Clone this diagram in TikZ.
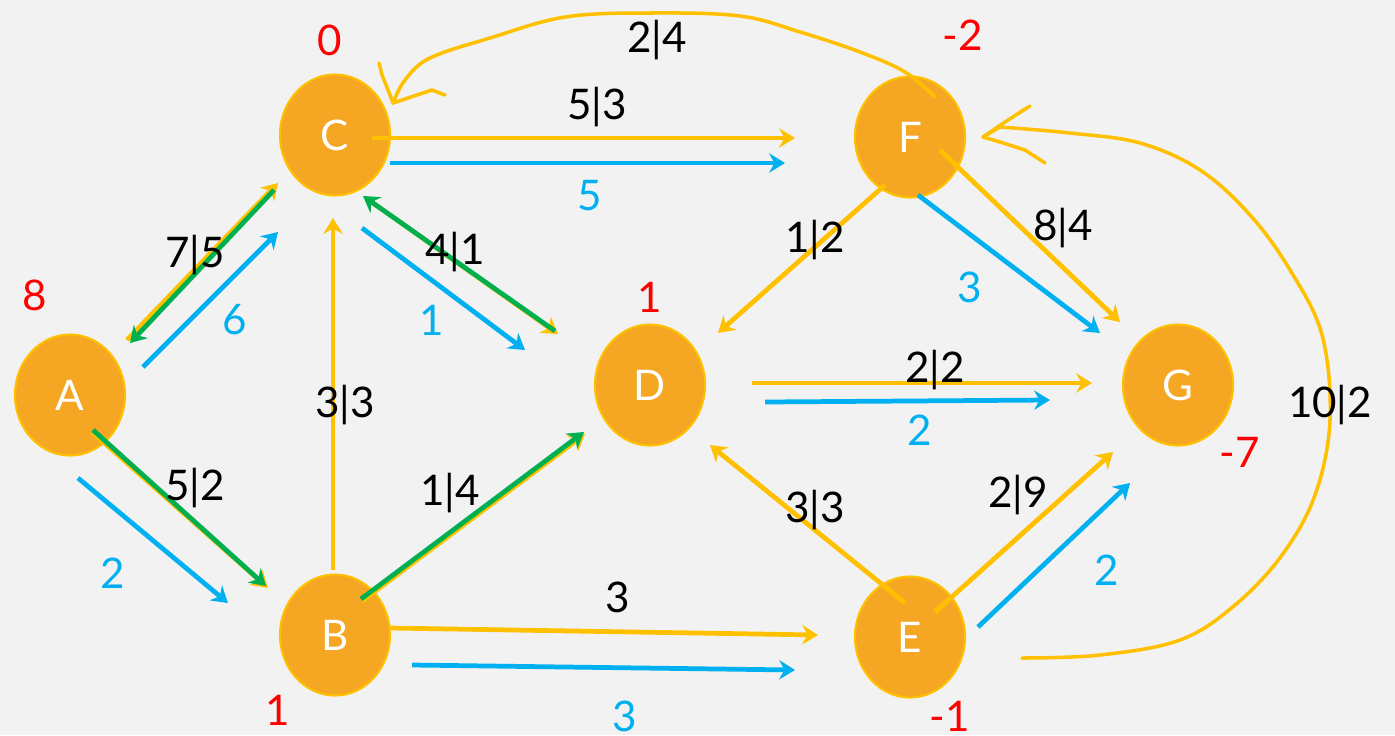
\documentclass[tikz,border=0pt]{standalone}
\usepackage{fontspec}
\setmainfont{Lato}
\usetikzlibrary{shapes.geometric,arrows.meta}
\definecolor{bg}{HTML}{F2F2F2}
\definecolor{vfill}{HTML}{F5A623}
\definecolor{gold}{HTML}{FFC000}
\definecolor{sky}{HTML}{00B0F0}
\definecolor{leaf}{HTML}{00B050}
\definecolor{pot}{HTML}{FF0000}
\tikzset{
  vert/.style={ellipse, draw=gold, line width=1.2pt, fill=vfill, text=white,
    minimum width=2.2cm, minimum height=2.42cm, inner sep=0pt, font=\fontsize{24}{28}\selectfont},
  tip/.style={-{Stealth[length=9pt,width=11pt,inset=3pt]}},
  ya/.style={tip, gold, line width=2.7pt},
  ba/.style={tip, sky, line width=2.7pt},
  ga/.style={tip, leaf, line width=2.7pt},
  hand/.style={gold, line width=2pt, line cap=round, line join=round},
  lbl/.style={font=\fontsize{24}{28}\selectfont, inner sep=0pt},
  bl/.style={lbl, text=sky},
  pl/.style={lbl, text=pot},
}
\begin{document}
\begin{tikzpicture}[x=0.02cm, y=-0.02cm]
\fill[bg] (0,0) rectangle (1395,735);
% vertices
\foreach \n/\x/\y in {A/70/395, C/335/135, B/335/635, D/650/385, F/910/137, E/910/637, G/1178/385} {
  \node[vert] (\n) at (\x,\y) {\n};
}
% yellow arcs (residual network)
\draw[ya] ([shift={(57,-55)}]A.center) -- ([shift={(-57,48)}]C.center);
\draw[ya] ([shift={(22,37)}]A.center)  -- ([shift={(-67,-47)}]B.center);
\draw[ya] ([shift={(-2,-65)}]B.center) -- ([shift={(-2,83)}]C.center);
\draw[ya] ([shift={(31,63)}]C.center)  -- ([shift={(-92,-51)}]D.center);
\draw[ya] ([shift={(37,3)}]C.center)   -- ([shift={(-115,1)}]F.center);
\draw[ya] ([shift={(27,-34)}]B.center) -- ([shift={(-65,49)}]D.center);
\draw[ya] ([shift={(55,-7)}]B.center)  -- ([shift={(-92,-2)}]E.center);
\draw[ya] ([shift={(-25,48)}]F.center) -- ([shift={(68,-52)}]D.center);
\draw[ya] ([shift={(30,13)}]F.center)  -- ([shift={(-58,-63)}]G.center);
\draw[ya] ([shift={(102,-2)}]D.center) -- ([shift={(-86,-2)}]G.center);
\draw[ya] ([shift={(-5,-34)}]E.center) -- ([shift={(60,60)}]D.center);
\draw[ya] ([shift={(25,-25)}]E.center) -- ([shift={(-65,67)}]G.center);
% green arcs on top
\draw[ga] ([shift={(-61,55)}]C.center) -- ([shift={(60,-52)}]A.center);
\draw[ga] ([shift={(23,35)}]A.center)  -- ([shift={(-69,-49)}]B.center);
\draw[ga] ([shift={(-95,-54)}]D.center) -- ([shift={(28,61)}]C.center);
\draw[ga] ([shift={(26,-36)}]B.center) -- ([shift={(-66,47)}]D.center);
% blue arcs
\draw[ba] ([shift={(73,-28)}]A.center) -- ([shift={(-57,97)}]C.center);
\draw[ba] ([shift={(8,83)}]A.center)   -- ([shift={(-107,-32)}]B.center);
\draw[ba] ([shift={(27,93)}]C.center)  -- ([shift={(-125,-35)}]D.center);
\draw[ba] ([shift={(55,28)}]C.center)  -- ([shift={(-125,26)}]F.center);
\draw[ba] ([shift={(77,30)}]B.center)  -- ([shift={(-115,33)}]E.center);
\draw[ba] ([shift={(8,58)}]F.center)   -- ([shift={(-78,-52)}]G.center);
\draw[ba] ([shift={(115,17)}]D.center) -- ([shift={(-128,15)}]G.center);
\draw[ba] ([shift={(68,-10)}]E.center) -- ([shift={(-48,98)}]G.center);
% hand drawn arcs
\draw[hand] ([shift={(25,-40)}]F.center) plot[smooth, tension=0.6] coordinates {
  (935,97) (905,72) (860,52) (800,32) (740,16) (650,13) (565,17) (490,38)
  (430,58) (405,80) (393,103)};
\draw[hand] (393,103) -- (388,90) -- (382,75) -- (379,63);
\draw[hand] (393,103) -- (420,94) -- (432,90) -- (445,95);
\draw[hand] ([shift={(112,21)}]E.center) plot[smooth, tension=0.6] coordinates {
  (1022,658) (1100,655) (1180,640) (1235,605) (1282,555) (1315,495)
  (1330,420) (1322,335) (1290,270) (1250,215) (1200,170) (1140,143) (1070,133) (1000,127)};
\draw[hand] (1000,127) -- (983,137) -- (1005,122) -- (1030,106) -- (1020,112);
\draw[hand] (983,137) -- (1000,142) -- (1025,150) -- (1045,163);
% potentials
\node[pl] (pC) at (330,40)  {0};
\node[pl] (pA) at (35,295)  {8};
\node[pl] (pB) at (278,710) {1};
\node[pl] (pD) at (650,297) {1};
\node[pl] (pF) at (963,35)  {-2};
\node[pl] (pG) at (1240,452) {-7};
\node[pl] (pE) at (950,716) {-1};
% arc labels
\node[lbl] (lCF) at (597,107) {5|3};
\node[bl]  (cCF) at (590,196) {5};
\node[lbl] (lAC) at (195,255) {7|5};
\node[bl]  (cAC) at (235,320) {6};
\node[lbl] (lAB) at (195,488) {5|2};
\node[bl]  (cAB) at (113,573) {2};
\node[lbl] (lBC) at (345,405) {3|3};
\node[lbl] (lCD) at (455,252) {4|1};
\node[bl]  (cCD) at (432,320) {1};
\node[lbl] (lBD) at (450,493) {1|4};
\node[lbl] (lBE) at (618,597) {3};
\node[bl]  (cBE) at (625,716) {3};
\node[lbl] (lFD) at (815,240) {1|2};
\node[lbl] (lFG) at (1063,228) {8|4};
\node[bl]  (cFG) at (970,287) {3};
\node[lbl] (lDG) at (935,370) {2|2};
\node[bl]  (cDG) at (920,430) {2};
\node[lbl] (lED) at (815,510) {3|3};
\node[lbl] (lEG) at (1018,495) {2|9};
\node[bl]  (cEG) at (1107,570) {2};
\node[lbl] (lFC) at (657,40)  {2|4};
\node[lbl] (lEF) at (1330,405) {10|2};
\end{tikzpicture}
\end{document}
